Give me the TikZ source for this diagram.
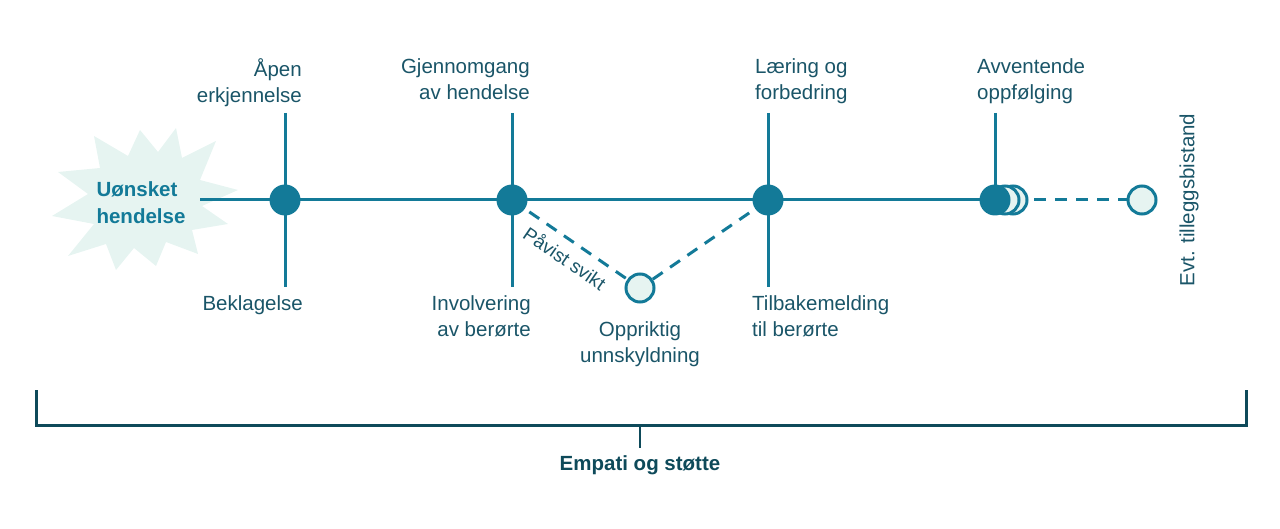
\documentclass[tikz,border=0pt]{standalone}
\usepackage{fontspec}
\setmainfont{Liberation Sans}
\usetikzlibrary{calc}
\definecolor{dot}{HTML}{137A98}
\definecolor{txt}{HTML}{1A5568}
\definecolor{dark}{HTML}{0E4A5A}
\definecolor{pale}{HTML}{E6F4F1}
\tikzset{
  lbl/.style={text=txt, font=\fontsize{20.5}{26.5}\selectfont, inner sep=0pt},
  axis/.style={draw=dot, line width=3pt},
  fdot/.style={circle, fill=dot, minimum size=31pt, inner sep=0pt},
  hdot/.style={circle, draw=dot, fill=pale, line width=3pt, minimum size=28pt, inner sep=0pt},
  dashline/.style={draw=dot, line width=3pt, dash pattern=on 12pt off 9pt},
}
\begin{document}
\begin{tikzpicture}[x=1pt,y=-1pt]
\useasboundingbox (0,0) rectangle (1280,529);
% starburst
\fill[pale] (238,190) -- (200,180) -- (216,141) -- (182,158) -- (176,128) -- (158,152) -- (140,130) -- (128,156) -- (94,136) -- (100,168) -- (58,172) -- (88,194) -- (52,216) -- (94,224) -- (68,256) -- (106,244) -- (116,270) -- (134,248) -- (156,266) -- (166,242) -- (198,254) -- (192,230) -- (228,224) -- (202,206) -- cycle;
\node[text=dot, font=\fontsize{20.5}{27}\selectfont\bfseries, align=left, inner sep=0pt] (ev) at (141,203) {Uønsket\\hendelse};
\coordinate (start) at (200,200);
% nodes
\coordinate (a) at (285,200);
\coordinate (b) at (512,200);
\coordinate (c) at (768,200);
\coordinate (d) at (995,200);
\coordinate (at) at (285,113); \coordinate (ab) at (285,287);
\coordinate (bt) at (512,113); \coordinate (bb) at (512,287);
\coordinate (ct) at (768,113); \coordinate (cb) at (768,287);
\coordinate (dt) at (995,113);
\draw[axis] (start) -- (d);
\draw[axis] (at) -- (ab);
\draw[axis] (bt) -- (bb);
\draw[axis] (ct) -- (cb);
\draw[axis] (dt) -- (d);
% dashed V
\node[hdot] (o) at (640,288) {};
\draw[dashline] (b) -- (o);
\draw[dashline] (o) -- (c);
\node[fdot] (na) at (a) {};
\node[fdot] (nb) at (b) {};
\node[fdot] (nc) at (c) {};
% cluster
\node[hdot] (d3) at (1013,200) {};
\node[hdot] (d2) at (1005,200) {};
\node[fdot] (nd) at (d) {};
\node[hdot] (e) at (1142,200) {};
\coordinate (ds) at (1034,200);
\draw[dashline] (ds) -- (e.west);
% labels
\node[lbl, align=right, anchor=north east] at (302,58) {Åpen\\erkjennelse};
\node[lbl, align=right, anchor=north east] at (530,58) {Gjennomgang\\av hendelse};
\node[lbl, align=left, anchor=north west] at (755,58) {Læring og\\forbedring};
\node[lbl, align=left, anchor=north west] at (977,58) {Avventende\\oppfølging};
\node[lbl, align=right, anchor=north east] at (303,295) {Beklagelse};
\node[lbl, align=right, anchor=north east] at (531,295) {Involvering\\av berørte};
\node[lbl, align=left, anchor=north west] at (752,295) {Tilbakemelding\\til berørte};
\node[lbl, align=center, anchor=north] at (640,321) {Oppriktig\\unnskyldning};
\node[lbl, font=\fontsize{19}{24}\selectfont, rotate=-34.5] at (565,258) {Påvist svikt};
\node[lbl, rotate=90] at (1189,200) {Evt. tilleggsbistand};
% bracket
\coordinate (bl) at (36,390); \coordinate (br) at (1246,390);
\coordinate (bc) at (640,425);
\draw[draw=dark, line width=3pt] (bl) -- (36,425) -- (1246,425) -- (br);
\draw[draw=dark, line width=2.2pt] (bc) -- (640,448) coordinate (bt2);
\node[text=dark, font=\fontsize{20.5}{26}\selectfont\bfseries, inner sep=0pt] (emp) at (640,465) {Empati og støtte};
\end{tikzpicture}
\end{document}
